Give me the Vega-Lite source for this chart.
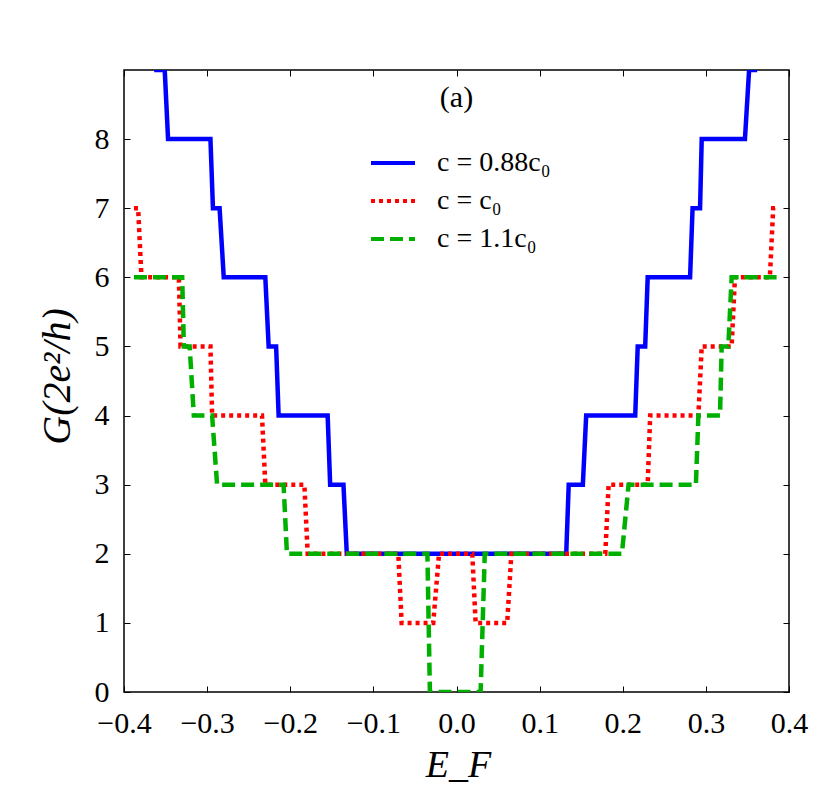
{
  "$schema": "https://vega.github.io/schema/vega-lite/v6.json",
  "autosize": {"type": "none"},
  "padding": {"left": 124, "top": 70, "right": 41, "bottom": 113},
  "width": 665,
  "height": 622,
  "background": "white",
  "config": {
    "view": {"stroke": "black", "strokeWidth": 1.5},
    "axis": {"grid": false, "domain": false, "tickColor": "black", "tickWidth": 1, "tickSize": -6,
             "labelFont": "Liberation Serif", "labelFontSize": 30, "labelColor": "black",
             "titleFont": "Liberation Serif", "titleColor": "black", "titleFontWeight": "normal"}
  },
  "datasets": {
    "curves": [
      {"s": "c = 0.88c₀", "o": 1, "x": -0.362, "y": 10},
      {"s": "c = 0.88c₀", "o": 2, "x": -0.361, "y": 9},
      {"s": "c = 0.88c₀", "o": 3, "x": -0.351, "y": 9},
      {"s": "c = 0.88c₀", "o": 4, "x": -0.347, "y": 8},
      {"s": "c = 0.88c₀", "o": 5, "x": -0.296, "y": 8},
      {"s": "c = 0.88c₀", "o": 6, "x": -0.293, "y": 7},
      {"s": "c = 0.88c₀", "o": 7, "x": -0.285, "y": 7},
      {"s": "c = 0.88c₀", "o": 8, "x": -0.280, "y": 6},
      {"s": "c = 0.88c₀", "o": 9, "x": -0.230, "y": 6},
      {"s": "c = 0.88c₀", "o": 10, "x": -0.226, "y": 5},
      {"s": "c = 0.88c₀", "o": 11, "x": -0.217, "y": 5},
      {"s": "c = 0.88c₀", "o": 12, "x": -0.214, "y": 4},
      {"s": "c = 0.88c₀", "o": 13, "x": -0.155, "y": 4},
      {"s": "c = 0.88c₀", "o": 14, "x": -0.152, "y": 3},
      {"s": "c = 0.88c₀", "o": 15, "x": -0.136, "y": 3},
      {"s": "c = 0.88c₀", "o": 16, "x": -0.132, "y": 2},
      {"s": "c = 0.88c₀", "o": 17, "x": 0.132, "y": 2},
      {"s": "c = 0.88c₀", "o": 18, "x": 0.135, "y": 3},
      {"s": "c = 0.88c₀", "o": 19, "x": 0.152, "y": 3},
      {"s": "c = 0.88c₀", "o": 20, "x": 0.156, "y": 4},
      {"s": "c = 0.88c₀", "o": 21, "x": 0.215, "y": 4},
      {"s": "c = 0.88c₀", "o": 22, "x": 0.218, "y": 5},
      {"s": "c = 0.88c₀", "o": 23, "x": 0.227, "y": 5},
      {"s": "c = 0.88c₀", "o": 24, "x": 0.230, "y": 6},
      {"s": "c = 0.88c₀", "o": 25, "x": 0.281, "y": 6},
      {"s": "c = 0.88c₀", "o": 26, "x": 0.284, "y": 7},
      {"s": "c = 0.88c₀", "o": 27, "x": 0.293, "y": 7},
      {"s": "c = 0.88c₀", "o": 28, "x": 0.295, "y": 8},
      {"s": "c = 0.88c₀", "o": 29, "x": 0.347, "y": 8},
      {"s": "c = 0.88c₀", "o": 30, "x": 0.352, "y": 9},
      {"s": "c = 0.88c₀", "o": 31, "x": 0.359, "y": 9},
      {"s": "c = 0.88c₀", "o": 32, "x": 0.360, "y": 10},
      {"s": "c = c₀", "o": 1, "x": -0.388, "y": 7},
      {"s": "c = c₀", "o": 2, "x": -0.383, "y": 7},
      {"s": "c = c₀", "o": 3, "x": -0.379, "y": 6},
      {"s": "c = c₀", "o": 4, "x": -0.334, "y": 6},
      {"s": "c = c₀", "o": 5, "x": -0.332, "y": 5},
      {"s": "c = c₀", "o": 6, "x": -0.296, "y": 5},
      {"s": "c = c₀", "o": 7, "x": -0.294, "y": 4},
      {"s": "c = c₀", "o": 8, "x": -0.234, "y": 4},
      {"s": "c = c₀", "o": 9, "x": -0.230, "y": 3},
      {"s": "c = c₀", "o": 10, "x": -0.183, "y": 3},
      {"s": "c = c₀", "o": 11, "x": -0.179, "y": 2},
      {"s": "c = c₀", "o": 12, "x": -0.070, "y": 2},
      {"s": "c = c₀", "o": 13, "x": -0.066, "y": 1},
      {"s": "c = c₀", "o": 14, "x": -0.028, "y": 1},
      {"s": "c = c₀", "o": 15, "x": -0.021, "y": 2},
      {"s": "c = c₀", "o": 16, "x": 0.019, "y": 2},
      {"s": "c = c₀", "o": 17, "x": 0.023, "y": 1},
      {"s": "c = c₀", "o": 18, "x": 0.061, "y": 1},
      {"s": "c = c₀", "o": 19, "x": 0.066, "y": 2},
      {"s": "c = c₀", "o": 20, "x": 0.179, "y": 2},
      {"s": "c = c₀", "o": 21, "x": 0.183, "y": 3},
      {"s": "c = c₀", "o": 22, "x": 0.230, "y": 3},
      {"s": "c = c₀", "o": 23, "x": 0.233, "y": 4},
      {"s": "c = c₀", "o": 24, "x": 0.291, "y": 4},
      {"s": "c = c₀", "o": 25, "x": 0.295, "y": 5},
      {"s": "c = c₀", "o": 26, "x": 0.331, "y": 5},
      {"s": "c = c₀", "o": 27, "x": 0.335, "y": 6},
      {"s": "c = c₀", "o": 28, "x": 0.377, "y": 6},
      {"s": "c = c₀", "o": 29, "x": 0.381, "y": 7},
      {"s": "c = c₀", "o": 30, "x": 0.386, "y": 7},
      {"s": "c = 1.1c₀", "o": 1, "x": -0.388, "y": 6},
      {"s": "c = 1.1c₀", "o": 2, "x": -0.330, "y": 6},
      {"s": "c = 1.1c₀", "o": 3, "x": -0.328, "y": 5},
      {"s": "c = 1.1c₀", "o": 4, "x": -0.321, "y": 5},
      {"s": "c = 1.1c₀", "o": 5, "x": -0.316, "y": 4},
      {"s": "c = 1.1c₀", "o": 6, "x": -0.294, "y": 4},
      {"s": "c = 1.1c₀", "o": 7, "x": -0.288, "y": 3},
      {"s": "c = 1.1c₀", "o": 8, "x": -0.208, "y": 3},
      {"s": "c = 1.1c₀", "o": 9, "x": -0.204, "y": 2},
      {"s": "c = 1.1c₀", "o": 10, "x": -0.035, "y": 2},
      {"s": "c = 1.1c₀", "o": 11, "x": -0.032, "y": 0},
      {"s": "c = 1.1c₀", "o": 12, "x": 0.029, "y": 0},
      {"s": "c = 1.1c₀", "o": 13, "x": 0.034, "y": 2},
      {"s": "c = 1.1c₀", "o": 14, "x": 0.199, "y": 2},
      {"s": "c = 1.1c₀", "o": 15, "x": 0.207, "y": 3},
      {"s": "c = 1.1c₀", "o": 16, "x": 0.288, "y": 3},
      {"s": "c = 1.1c₀", "o": 17, "x": 0.291, "y": 4},
      {"s": "c = 1.1c₀", "o": 18, "x": 0.317, "y": 4},
      {"s": "c = 1.1c₀", "o": 19, "x": 0.319, "y": 5},
      {"s": "c = 1.1c₀", "o": 20, "x": 0.327, "y": 5},
      {"s": "c = 1.1c₀", "o": 21, "x": 0.331, "y": 6},
      {"s": "c = 1.1c₀", "o": 22, "x": 0.389, "y": 6}
    ],
    "notes": [{"x": 0.0, "y": 8.6, "t": "(a)"}]
  },
  "layer": [
    {
      "data": {"name": "curves"},
      "mark": {"type": "line", "strokeWidth": 4.5, "clip": true, "strokeJoin": "miter", "strokeCap": "butt"},
      "encoding": {
        "x": {"field": "x", "type": "quantitative",
              "scale": {"domain": [-0.4, 0.4], "nice": false, "zero": false},
              "axis": {"orient": "bottom", "values": [-0.4, -0.3, -0.2, -0.1, 0, 0.1, 0.2, 0.3, 0.4], "format": ".1f",
                       "labelPadding": 22, "labelFlush": false,
                       "title": "E_F", "titleFontSize": 38, "titleFontStyle": "italic",
                       "titleX": 334, "titleY": 73, "titleBaseline": "middle", "titleAlign": "center"}},
        "y": {"field": "y", "type": "quantitative",
              "scale": {"domain": [0, 9], "nice": false},
              "axis": {"orient": "left", "values": [0, 1, 2, 3, 4, 5, 6, 7, 8], "format": "d",
                       "labelPadding": 21, "labelFlush": false,
                       "title": "G(2e²/h)", "titleFontSize": 40, "titleFontStyle": "italic",
                       "titleX": -67, "titleY": 306, "titleBaseline": "middle", "titleAlign": "center", "titleAngle": -90}},
        "order": {"field": "o", "type": "quantitative"},
        "color": {"field": "s", "type": "nominal",
                  "scale": {"domain": ["c = 0.88c₀", "c = c₀", "c = 1.1c₀"], "range": ["#0000ff", "#ff0000", "#00b000"]},
                  "legend": {"orient": "none", "legendX": 245, "legendY": 69, "title": null, "padding": 0,
                             "labelFont": "Liberation Serif", "labelFontSize": 28, "labelColor": "black",
                             "symbolType": "stroke", "symbolSize": 1936, "symbolStrokeWidth": 4,
                             "rowPadding": -5, "labelOffset": 20}},
        "strokeDash": {"field": "s", "type": "nominal",
                       "scale": {"domain": ["c = 0.88c₀", "c = c₀", "c = 1.1c₀"], "range": [[1, 0], [4, 4], [13, 6]]},
                       "legend": {"orient": "none", "legendX": 245, "legendY": 69, "title": null, "padding": 0,
                             "labelFont": "Liberation Serif", "labelFontSize": 28, "labelColor": "black",
                             "symbolType": "stroke", "symbolSize": 1936, "symbolStrokeWidth": 4,
                             "rowPadding": -5, "labelOffset": 20}}
      }
    },
    {
      "data": {"name": "notes"},
      "mark": {"type": "text", "font": "Liberation Serif", "fontSize": 30, "color": "black", "align": "center", "baseline": "middle"},
      "encoding": {
        "x": {"field": "x", "type": "quantitative",
              "axis": {"orient": "top", "values": [-0.4, -0.3, -0.2, -0.1, 0, 0.1, 0.2, 0.3, 0.4], "labels": false, "title": null}},
        "y": {"field": "y", "type": "quantitative",
              "axis": {"orient": "right", "values": [0, 1, 2, 3, 4, 5, 6, 7, 8], "labels": false, "title": null}},
        "text": {"field": "t", "type": "nominal"}
      }
    }
  ],
  "resolve": {"axis": {"x": "independent", "y": "independent"}}
}
